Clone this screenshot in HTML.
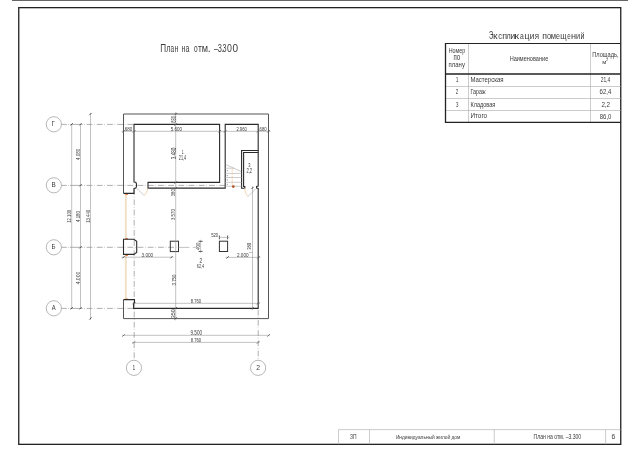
<!DOCTYPE html>
<html><head><meta charset="utf-8"><style>
html,body{margin:0;padding:0;background:#fff;width:640px;height:452px;overflow:hidden}
svg{display:block;will-change:transform}
text{font-family:"Liberation Sans",sans-serif;fill:#3a3a3a}
.f{stroke:#222;fill:none}
.w{stroke:#2a2a2a;fill:none;stroke-width:1.1}
.o{stroke:#555;fill:none;stroke-width:1}
.d{stroke:#999;fill:none;stroke-width:0.6}
.k{stroke:#444;fill:none;stroke-width:0.9}
.a{stroke:#9a9a9a;fill:none;stroke-width:0.8;stroke-dasharray:5.8 1.8 0.6 2}
.g{stroke:#aaa;fill:none;stroke-width:0.6}
.c{stroke:#999;fill:#fff;stroke-width:0.7}
.or{stroke:#f0c090;fill:none;stroke-width:0.7}
</style></head><body>
<svg width="640" height="452" viewBox="0 0 640 452">
<!-- top bar -->
<rect x="12" y="0" width="616" height="1" fill="#666"/>
<!-- frame -->
<rect class="f" x="18.75" y="7.65" width="602" height="436.7" stroke-width="1.3"/>
<!-- table -->
<line class="g" x1="468.5" y1="43.5" x2="468.5" y2="122.4"/>
<line class="g" x1="590.5" y1="43.5" x2="590.5" y2="122.4"/>
<line class="g" x1="445.5" y1="86.5" x2="620.7" y2="86.5"/>
<line class="g" x1="445.5" y1="98.5" x2="620.7" y2="98.5"/>
<line class="g" x1="445.5" y1="110.5" x2="620.7" y2="110.5"/>
<line class="f" x1="445.5" y1="43.5" x2="620.7" y2="43.5" stroke-width="1.2"/>
<line class="f" x1="445.5" y1="74" x2="620.7" y2="74" stroke-width="1.5"/>
<line class="f" x1="445.5" y1="122.4" x2="620.7" y2="122.4" stroke-width="1.2"/>
<line class="f" x1="445.5" y1="43" x2="445.5" y2="123" stroke-width="1.3"/>
<!-- title block -->
<line class="g" x1="338.5" y1="429.6" x2="620.7" y2="429.6" stroke="#999"/>
<line class="g" x1="338.5" y1="429.6" x2="338.5" y2="444.3" stroke="#999"/>
<line class="g" x1="369.5" y1="429.6" x2="369.5" y2="444.3"/>
<line class="g" x1="494.25" y1="429.6" x2="494.25" y2="444.3"/>
<line class="g" x1="605.6" y1="429.6" x2="605.6" y2="444.3"/>
<!-- axis circles -->
<g class="c">
<circle cx="53.85" cy="124.3" r="7.6"/>
<circle cx="53.85" cy="185.3" r="7.6"/>
<circle cx="53.85" cy="247.3" r="7.6"/>
<circle cx="53.85" cy="308.3" r="7.6"/>
<circle cx="133.95" cy="367.85" r="7.6"/>
<circle cx="258.1" cy="367.85" r="7.6"/>
</g>
<!-- axis lines -->
<path class="a" style="stroke-dasharray:none" d="M61.3 124.4H66.8M68.1 124.4H68.8M69.9 124.4H82.6M84.2 124.4H84.9"/>
<line class="a" x1="86.6" y1="124.4" x2="134" y2="124.4"/>
<path class="a" style="stroke-dasharray:none" d="M61.3 185.4H66.8M68.1 185.4H68.8M69.9 185.4H82.6M84.2 185.4H84.9"/>
<line class="a" x1="86.6" y1="185.4" x2="225" y2="185.4"/>
<path class="a" style="stroke-dasharray:none" d="M61.3 247.3H66.8M68.1 247.3H68.8M69.9 247.3H82.6M84.2 247.3H84.9"/>
<line class="a" x1="86.6" y1="247.3" x2="178.5" y2="247.3"/>
<path class="a" style="stroke-dasharray:none" d="M61.3 308.4H66.8M68.1 308.4H68.8M69.9 308.4H82.6M84.2 308.4H84.9"/>
<line class="a" x1="86.6" y1="308.4" x2="134" y2="308.4"/>
<line class="a" x1="134.2" y1="188" x2="134.2" y2="360.2" stroke-dashoffset="9"/>
<line class="a" x1="258.2" y1="308" x2="258.2" y2="360.2" stroke-dashoffset="8.4"/>
<!-- left dimension lines -->
<line class="d" x1="71.7" y1="124.3" x2="71.7" y2="308.3"/>
<line class="d" x1="80.5" y1="124.3" x2="80.5" y2="308.3"/>
<line class="d" x1="90.5" y1="113" x2="90.5" y2="320"/>
<!-- building outer -->
<path class="o" d="M123.5 193.4V114H268.5V318.6H123.5V299.6"/>

<!-- windows (orange) -->
<line x1="125.8" y1="194.5" x2="125.8" y2="238.5" stroke="#f0dfc4" stroke-width="1.9"/>
<line x1="125.8" y1="255.5" x2="125.8" y2="299" stroke="#f0dfc4" stroke-width="1.9"/>
<g fill="#e07030"><rect x="125.3" y="193.7" width="2.6" height="1.2"/><rect x="125.3" y="238.1" width="2.6" height="1.2"/><rect x="125.3" y="254.7" width="2.6" height="1.2"/><rect x="125.3" y="298.6" width="2.6" height="1.2"/></g>
<!-- walls -->
<path class="w" d="M123.5 193.4H134V188.4L135.8 188L136.5 186.5V184L135.8 182.3L134 182V124.4H219.6V182.4H148V188.1H225.2V124.4H258.2V186L256.6 186.4V188L258.2 188.4V308.4H133.6V303L134.5 302.7V299.6H123.5"/>
<path class="w" d="M123.5 239.2H133.8L136.7 241.2V252.4L133.8 254.4H123.5Z"/>
<path class="w" d="M258.2 150.5H241.6V188.2H244.8V186.5H243.6V152.5H258.2"/>
<!-- stairs -->
<path class="g" stroke="#777" d="M225.2 168.2H234.2M225.2 173.4H241.6M225.2 177.5H241.6M225.2 182.3H241.6M225.2 186.2H241.6M225.5 164.4L241 171.5"/>
<g fill="#999"><rect x="226.8" y="170.2" width="1.2" height="1"/><rect x="226.8" y="175" width="1" height="1.2"/><rect x="226.8" y="179.4" width="1" height="1.2"/><rect x="226.8" y="183.8" width="1" height="1"/></g>
<line class="or" x1="232.2" y1="169" x2="232.2" y2="185" stroke-dasharray="2.5 1" stroke-width="1.2" stroke="#f2c8a0"/>
<circle cx="233.3" cy="186.6" r="1.4" fill="#b5562a"/>
<!-- doors -->
<path class="g" stroke="#777" d="M136.5 188L144 195.5"/>
<path class="or" d="M144 195.5Q147.5 192.5 147.9 188.3"/>
<path class="or" d="M244.5 188.3Q244.8 194 248 196.5"/>
<path class="g" stroke="#777" d="M248 196.5L255.5 189"/>
<!-- columns -->
<rect x="170.3" y="241.2" width="8.2" height="10.4" fill="none" stroke="#333" stroke-width="1"/>
<rect x="219.4" y="241.2" width="8.2" height="10.3" fill="none" stroke="#333" stroke-width="1"/>
<!-- interior dims -->
<line class="d" x1="121.6" y1="131.3" x2="270.6" y2="131.3"/>
<line class="d" x1="175.7" y1="112" x2="175.7" y2="320.4"/>
<line class="d" x1="252.5" y1="186" x2="252.5" y2="310.2"/>
<line class="d" x1="132.2" y1="303.3" x2="260.1" y2="303.3"/>
<line class="d" x1="121.5" y1="257.2" x2="173.5" y2="257.2"/>
<line class="d" x1="225.6" y1="257.4" x2="260.5" y2="257.4"/>
<line class="d" x1="200.6" y1="239.8" x2="200.6" y2="252.8"/>
<path class="k" stroke-width="0.7" d="M198.6 241.3H202.6M198.6 251.4H202.6M219.4 235.5V239.3M227.6 235.5V239.3"/>
<path class="d" d="M192.8 247.4H198.2"/>
<line class="d" x1="218.9" y1="237.4" x2="229.4" y2="237.4"/>
<line class="d" x1="249" y1="252.5" x2="252.5" y2="252.5"/>
<line class="d" x1="178.5" y1="247.4" x2="189.5" y2="247.4"/>
<path class="k" d="M70.60 125.40l2.2 -2.2M70.60 309.40l2.2 -2.2M79.40 125.40l2.2 -2.2M79.40 186.40l2.2 -2.2M79.40 248.40l2.2 -2.2M79.40 309.40l2.2 -2.2M89.40 115.10l2.2 -2.2M89.40 319.50l2.2 -2.2M174.60 115.10l2.2 -2.2M174.60 125.60l2.2 -2.2M174.60 183.60l2.2 -2.2M174.60 189.30l2.2 -2.2M174.60 309.30l2.2 -2.2M174.60 319.50l2.2 -2.2M122.50 132.40l2.2 -2.2M133.10 132.40l2.2 -2.2M218.60 132.40l2.2 -2.2M224.10 132.40l2.2 -2.2M257.10 132.40l2.2 -2.2M267.50 132.40l2.2 -2.2M133.10 304.40l2.2 -2.2M257.00 304.40l2.2 -2.2M122.40 258.30l2.2 -2.2M170.40 258.30l2.2 -2.2M226.50 258.50l2.2 -2.2M257.40 258.50l2.2 -2.2M251.40 189.10l2.2 -2.2M251.40 309.30l2.2 -2.2M122.50 336.50l2.2 -2.2M267.50 336.50l2.2 -2.2M132.85 343.50l2.2 -2.2M257.00 343.50l2.2 -2.2"/>
<!-- bottom dims -->
<line class="d" x1="122" y1="335.3" x2="269.8" y2="335.3"/>
<line class="d" x1="132" y1="342.4" x2="259.5" y2="342.4"/>

<text x="160.29" y="51.70" font-size="10.90" textLength="5.85" lengthAdjust="spacingAndGlyphs" fill="#1e1e1e">П</text>
<text x="166.16" y="51.70" font-size="10.90" textLength="4.13" lengthAdjust="spacingAndGlyphs" fill="#1e1e1e">л</text>
<text x="170.53" y="51.70" font-size="10.90" textLength="3.57" lengthAdjust="spacingAndGlyphs" fill="#1e1e1e">а</text>
<text x="174.61" y="51.70" font-size="10.90" textLength="3.87" lengthAdjust="spacingAndGlyphs" fill="#1e1e1e">н</text>
<text x="181.51" y="51.70" font-size="10.90" textLength="3.87" lengthAdjust="spacingAndGlyphs" fill="#1e1e1e">н</text>
<text x="185.60" y="51.70" font-size="10.90" textLength="3.90" lengthAdjust="spacingAndGlyphs" fill="#1e1e1e">а</text>
<text x="193.92" y="51.70" font-size="10.90" textLength="3.65" lengthAdjust="spacingAndGlyphs" fill="#1e1e1e">о</text>
<text x="198.05" y="51.70" font-size="10.90" textLength="3.89" lengthAdjust="spacingAndGlyphs" fill="#1e1e1e">т</text>
<text x="201.87" y="51.70" font-size="10.90" textLength="6.26" lengthAdjust="spacingAndGlyphs" fill="#1e1e1e">м</text>
<text x="207.64" y="51.70" font-size="10.90" textLength="2.92" lengthAdjust="spacingAndGlyphs" fill="#1e1e1e">.</text>
<text x="213.90" y="51.70" font-size="10.90" textLength="3.70" lengthAdjust="spacingAndGlyphs" fill="#1e1e1e">–</text>
<text x="217.82" y="51.70" font-size="10.90" textLength="4.11" lengthAdjust="spacingAndGlyphs" fill="#1e1e1e">3</text>
<text x="221.23" y="51.70" font-size="10.90" textLength="2.04" lengthAdjust="spacingAndGlyphs" fill="#1e1e1e">.</text>
<text x="222.53" y="51.70" font-size="10.90" textLength="3.99" lengthAdjust="spacingAndGlyphs" fill="#1e1e1e">3</text>
<text x="226.96" y="51.70" font-size="10.90" textLength="4.89" lengthAdjust="spacingAndGlyphs" fill="#1e1e1e">0</text>
<text x="232.41" y="51.70" font-size="10.90" textLength="5.58" lengthAdjust="spacingAndGlyphs" fill="#1e1e1e">0</text>
<text x="488.99" y="38.50" font-size="10.80" textLength="4.32" lengthAdjust="spacingAndGlyphs" fill="#1e1e1e">Э</text>
<text x="492.90" y="38.50" font-size="9.80" textLength="4.55" lengthAdjust="spacingAndGlyphs" fill="#1e1e1e">к</text>
<text x="498.37" y="38.50" font-size="9.80" textLength="3.83" lengthAdjust="spacingAndGlyphs" fill="#1e1e1e">с</text>
<text x="502.28" y="38.50" font-size="9.80" textLength="4.84" lengthAdjust="spacingAndGlyphs" fill="#1e1e1e">п</text>
<text x="506.56" y="38.50" font-size="9.80" textLength="4.13" lengthAdjust="spacingAndGlyphs" fill="#1e1e1e">л</text>
<text x="510.37" y="38.50" font-size="9.80" textLength="5.05" lengthAdjust="spacingAndGlyphs" fill="#1e1e1e">и</text>
<text x="514.36" y="38.50" font-size="9.80" textLength="4.78" lengthAdjust="spacingAndGlyphs" fill="#1e1e1e">к</text>
<text x="520.11" y="38.50" font-size="9.80" textLength="3.79" lengthAdjust="spacingAndGlyphs" fill="#1e1e1e">а</text>
<text x="524.49" y="38.50" font-size="9.80" textLength="5.01" lengthAdjust="spacingAndGlyphs" fill="#1e1e1e">ц</text>
<text x="529.72" y="38.50" font-size="9.80" textLength="4.66" lengthAdjust="spacingAndGlyphs" fill="#1e1e1e">и</text>
<text x="534.63" y="38.50" font-size="9.80" textLength="4.32" lengthAdjust="spacingAndGlyphs" fill="#1e1e1e">я</text>
<text x="542.20" y="38.50" font-size="9.80" textLength="4.70" lengthAdjust="spacingAndGlyphs" fill="#1e1e1e">п</text>
<text x="546.99" y="38.50" font-size="9.80" textLength="4.12" lengthAdjust="spacingAndGlyphs" fill="#1e1e1e">о</text>
<text x="550.77" y="38.50" font-size="9.80" textLength="5.26" lengthAdjust="spacingAndGlyphs" fill="#1e1e1e">м</text>
<text x="555.90" y="38.50" font-size="9.80" textLength="3.91" lengthAdjust="spacingAndGlyphs" fill="#1e1e1e">е</text>
<text x="560.27" y="38.50" font-size="9.80" textLength="6.31" lengthAdjust="spacingAndGlyphs" fill="#1e1e1e">щ</text>
<text x="567.34" y="38.50" font-size="9.80" textLength="3.44" lengthAdjust="spacingAndGlyphs" fill="#1e1e1e">е</text>
<text x="571.06" y="38.50" font-size="9.80" textLength="5.07" lengthAdjust="spacingAndGlyphs" fill="#1e1e1e">н</text>
<text x="576.09" y="38.50" font-size="9.80" textLength="4.12" lengthAdjust="spacingAndGlyphs" fill="#1e1e1e">и</text>
<text x="580.40" y="38.50" font-size="9.80" textLength="3.99" lengthAdjust="spacingAndGlyphs" fill="#1e1e1e">й</text>
<text x="448.66" y="53.30" font-size="6.98" textLength="16.46" lengthAdjust="spacingAndGlyphs">Номер</text>
<text x="453.59" y="60.30" font-size="8.36" textLength="6.57" lengthAdjust="spacingAndGlyphs">по</text>
<text x="448.59" y="67.00" font-size="7.81" textLength="16.33" lengthAdjust="spacingAndGlyphs">плану</text>
<text x="509.64" y="60.60" font-size="7.85" textLength="38.60" lengthAdjust="spacingAndGlyphs">Наименование</text>
<text x="592.24" y="56.90" font-size="6.54" textLength="26.27" lengthAdjust="spacingAndGlyphs">Площадь,</text>
<text x="602.28" y="64.00" font-size="5.68" textLength="4.13" lengthAdjust="spacingAndGlyphs">м</text>
<text x="606.33" y="61.40" font-size="3.15" textLength="1.83" lengthAdjust="spacingAndGlyphs">2</text>
<text x="455.73" y="82.10" font-size="7.27" textLength="2.71" lengthAdjust="spacingAndGlyphs">1</text>
<text x="470.41" y="82.10" font-size="7.27" textLength="33.11" lengthAdjust="spacingAndGlyphs">Мастерская</text>
<text x="600.65" y="81.80" font-size="7.45" textLength="9.59" lengthAdjust="spacingAndGlyphs">21,4</text>
<text x="455.87" y="94.25" font-size="7.16" textLength="2.56" lengthAdjust="spacingAndGlyphs">2</text>
<text x="470.47" y="94.25" font-size="7.26" textLength="15.15" lengthAdjust="spacingAndGlyphs">Гараж</text>
<text x="599.60" y="93.80" font-size="7.02" textLength="11.68" lengthAdjust="spacingAndGlyphs">62,4</text>
<text x="455.93" y="106.50" font-size="7.16" textLength="2.46" lengthAdjust="spacingAndGlyphs">3</text>
<text x="470.44" y="106.50" font-size="7.27" textLength="24.94" lengthAdjust="spacingAndGlyphs">Кладовая</text>
<text x="601.38" y="106.60" font-size="7.73" textLength="8.73" lengthAdjust="spacingAndGlyphs">2,2</text>
<text x="470.38" y="118.40" font-size="7.27" textLength="16.78" lengthAdjust="spacingAndGlyphs">Итого</text>
<text x="599.84" y="118.70" font-size="7.88" textLength="11.49" lengthAdjust="spacingAndGlyphs">86,0</text>
<text x="350.04" y="438.80" font-size="6.74" textLength="6.55" lengthAdjust="spacingAndGlyphs">ЗП</text>
<text x="395.91" y="439.00" font-size="5.52" textLength="64.43" lengthAdjust="spacingAndGlyphs">Индивидуальный жилой дом</text>
<text x="533.59" y="439.30" font-size="6.30" textLength="47.61" lengthAdjust="spacingAndGlyphs">План на отм. –3.300</text>
<text x="611.56" y="438.80" font-size="6.59" textLength="3.74" lengthAdjust="spacingAndGlyphs">6</text>
<text x="51.48" y="125.80" font-size="6.68" textLength="3.44" lengthAdjust="spacingAndGlyphs" fill="#505050">Г</text>
<text x="51.38" y="187.20" font-size="6.69" textLength="4.26" lengthAdjust="spacingAndGlyphs" fill="#505050">В</text>
<text x="51.60" y="249.20" font-size="6.69" textLength="4.02" lengthAdjust="spacingAndGlyphs" fill="#505050">Б</text>
<text x="51.69" y="310.20" font-size="6.69" textLength="3.92" lengthAdjust="spacingAndGlyphs" fill="#505050">А</text>
<text x="132.53" y="369.80" font-size="7.41" textLength="2.71" lengthAdjust="spacingAndGlyphs" fill="#505050">1</text>
<text x="256.16" y="369.80" font-size="7.30" textLength="3.78" lengthAdjust="spacingAndGlyphs" fill="#505050">2</text>
<text transform="translate(71.00 222.83) rotate(-90)" font-size="4.87" textLength="13.09" lengthAdjust="spacingAndGlyphs" fill="#505050">12.100</text>
<text transform="translate(80.10 160.00) rotate(-90)" font-size="5.59" textLength="11.28" lengthAdjust="spacingAndGlyphs" fill="#505050">4.080</text>
<text transform="translate(80.00 222.00) rotate(-90)" font-size="5.16" textLength="10.97" lengthAdjust="spacingAndGlyphs" fill="#505050">4.180</text>
<text transform="translate(80.00 284.31) rotate(-90)" font-size="5.16" textLength="12.51" lengthAdjust="spacingAndGlyphs" fill="#505050">4.000</text>
<text transform="translate(89.80 222.83) rotate(-90)" font-size="5.44" textLength="13.09" lengthAdjust="spacingAndGlyphs" fill="#505050">13.440</text>
<text x="124.87" y="131.00" font-size="5.59" textLength="7.50" lengthAdjust="spacingAndGlyphs" fill="#505050">680</text>
<text x="170.82" y="131.00" font-size="5.44" textLength="11.26" lengthAdjust="spacingAndGlyphs" fill="#505050">5.600</text>
<text x="236.39" y="131.00" font-size="5.44" textLength="10.37" lengthAdjust="spacingAndGlyphs" fill="#505050">2.960</text>
<text x="259.58" y="131.00" font-size="5.44" textLength="7.08" lengthAdjust="spacingAndGlyphs" fill="#505050">680</text>
<text x="141.52" y="256.70" font-size="6.02" textLength="11.66" lengthAdjust="spacingAndGlyphs" fill="#505050">3.000</text>
<text x="236.97" y="256.70" font-size="6.02" textLength="11.61" lengthAdjust="spacingAndGlyphs" fill="#505050">2.000</text>
<text x="190.82" y="302.80" font-size="5.16" textLength="10.34" lengthAdjust="spacingAndGlyphs" fill="#505050">8.760</text>
<text x="211.13" y="237.30" font-size="6.16" textLength="7.03" lengthAdjust="spacingAndGlyphs" fill="#505050">520</text>
<text x="190.48" y="334.80" font-size="6.59" textLength="11.60" lengthAdjust="spacingAndGlyphs" fill="#505050">9.500</text>
<text x="190.72" y="341.70" font-size="5.59" textLength="10.44" lengthAdjust="spacingAndGlyphs" fill="#505050">8.760</text>
<text transform="translate(175.80 122.71) rotate(-90)" font-size="6.73" textLength="6.76" lengthAdjust="spacingAndGlyphs" fill="#505050">680</text>
<text transform="translate(175.50 159.28) rotate(-90)" font-size="6.73" textLength="11.76" lengthAdjust="spacingAndGlyphs" fill="#505050">3.480</text>
<text transform="translate(175.30 196.16) rotate(-90)" font-size="6.16" textLength="6.82" lengthAdjust="spacingAndGlyphs" fill="#505050">380</text>
<text transform="translate(175.30 219.96) rotate(-90)" font-size="6.16" textLength="10.73" lengthAdjust="spacingAndGlyphs" fill="#505050">3.570</text>
<text transform="translate(175.50 285.46) rotate(-90)" font-size="6.02" textLength="10.83" lengthAdjust="spacingAndGlyphs" fill="#505050">3.750</text>
<text transform="translate(175.30 318.30) rotate(-90)" font-size="5.87" textLength="8.91" lengthAdjust="spacingAndGlyphs" fill="#505050">350</text>
<text transform="translate(199.60 249.90) rotate(-90)" font-size="5.73" textLength="7.27" lengthAdjust="spacingAndGlyphs" fill="#505050">400</text>
<text transform="translate(251.40 249.86) rotate(-90)" font-size="4.44" textLength="6.92" lengthAdjust="spacingAndGlyphs" fill="#505050">380</text>
<text x="181.63" y="154.40" font-size="5.96" textLength="1.93" lengthAdjust="spacingAndGlyphs" fill="#505050">1</text>
<text x="178.81" y="159.60" font-size="6.30" textLength="7.30" lengthAdjust="spacingAndGlyphs" fill="#505050">21,4</text>
<text x="199.56" y="262.60" font-size="6.30" textLength="2.69" lengthAdjust="spacingAndGlyphs" fill="#505050">2</text>
<text x="196.81" y="267.80" font-size="6.16" textLength="7.40" lengthAdjust="spacingAndGlyphs" fill="#505050">62,4</text>
<text x="248.15" y="167.20" font-size="4.44" textLength="2.23" lengthAdjust="spacingAndGlyphs" fill="#505050">3</text>
<text x="246.39" y="173.30" font-size="6.44" textLength="5.82" lengthAdjust="spacingAndGlyphs" fill="#505050">2,2</text>
</svg>
</body></html>
